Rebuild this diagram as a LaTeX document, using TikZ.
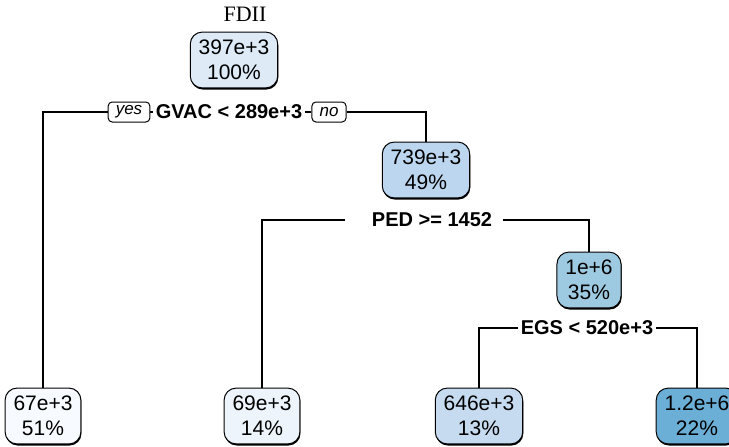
\documentclass[tikz,border=0pt]{standalone}
\usepackage{fontspec}
\setmainfont{Liberation Sans}
\newfontfamily\titlefont{Liberation Serif}
\usetikzlibrary{shadows}

\definecolor{rootcol}{HTML}{DEEBF7}
\definecolor{midcol}{HTML}{BBD6EE}
\definecolor{deepcol}{HTML}{9ECAE1}
\definecolor{leafa}{HTML}{F7FBFF}
\definecolor{leafb}{HTML}{EEF4FB}
\definecolor{leafc}{HTML}{C6DBEF}
\definecolor{leafd}{HTML}{6BAED6}

\begin{document}
\begin{tikzpicture}[x=0.5pt, y=-0.5pt,
    treenode/.style={draw, rounded corners=6pt, align=center, line width=0.5pt,
        inner xsep=4.2pt, inner ysep=4pt, font=\fontsize{10.5}{12.5}\selectfont,
        drop shadow={shadow xshift=0.3pt, shadow yshift=-0.8pt, fill=black, opacity=1}},
    splitlbl/.style={font=\fontsize{10}{12}\selectfont\bfseries, inner xsep=1pt, inner ysep=1pt},
    yesno/.style={draw, fill=white, rounded corners=2pt, line width=0.5pt,
        font=\fontsize{8.5}{9}\selectfont\itshape, inner xsep=3.8pt, inner ysep=1pt, minimum height=10pt},
    edge/.style={line width=0.6pt}]

    \useasboundingbox (0,0) rectangle (729,446);

    % --- title and root ---
    \node[font=\titlefont\fontsize{11}{13}\selectfont] (title) at (245,14) {FDII};
    \node[treenode, fill=rootcol] (root) at (234,60) {397e+3\\100\%};

    % --- first split ---
    \node[splitlbl] (gvac) at (229,112) {GVAC < 289e+3};
    \node[yesno] (yes) at (129,112) {yes};
    \node[yesno] (no) at (329,112) {no};

    \node[treenode, fill=midcol] (mid) at (426,170) {739e+3\\49\%};

    % --- second split ---
    \node[splitlbl] (ped) at (432,220) {PED >= 1452};
    \node[treenode, fill=deepcol] (deep) at (589,280) {1e+6\\35\%};

    % --- third split ---
    \node[splitlbl] (egs) at (587,328) {EGS < 520e+3};

    % --- leaves ---
    \node[treenode, fill=leafa] (leafA) at (43,416) {67e+3\\51\%};
    \node[treenode, fill=leafb] (leafB) at (262,416) {69e+3\\14\%};
    \node[treenode, fill=leafc] (leafC) at (479,416) {646e+3\\13\%};
    \node[treenode, fill=leafd] (leafD) at (697,416) {1.2e+6\\22\%};

    % --- connectors ---
    \draw[edge] (leafA.north) |- (yes.west);
    \draw[edge] (yes.east) -- (gvac.west);
    \draw[edge] (gvac.east) -- (no.west);
    \draw[edge] (no.east) -| (mid.north);

    \draw[edge] (leafB.north) |- ([xshift=-12.5pt]ped.west);
    \draw[edge] ([xshift=4.5pt]ped.east) -| (deep.north);

    \draw[edge] (leafC.north) |- (egs.west);
    \draw[edge] (egs.east) -| (leafD.north);
\end{tikzpicture}
\end{document}
